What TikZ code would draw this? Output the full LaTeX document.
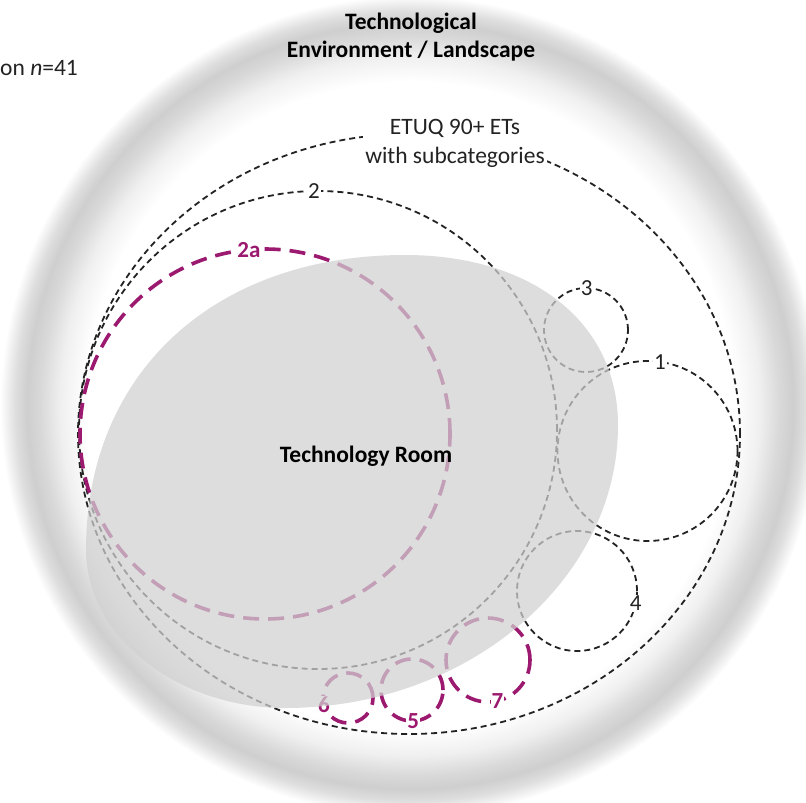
\documentclass[tikz,border=0pt]{standalone}
\usepackage{fontspec}
\setmainfont{Carlito}
\usetikzlibrary{shapes.geometric}
\pgfdeclareradialshading{ringglow}{\pgfpoint{0bp}{0bp}}{color(0bp)=(white); color(19.3bp)=(white); color(20.8bp)=(black!6); color(22.0bp)=(black!15); color(22.8bp)=(black!19); color(23.5bp)=(black!13); color(24.4bp)=(white); color(50bp)=(white)}
\definecolor{mag}{RGB}{155,25,110}
\definecolor{dk}{RGB}{35,35,35}
\begin{document}
\begin{tikzpicture}[x=1pt,y=-1pt,
  bdash/.style={draw=dk, line width=1.8pt, dash pattern=on 6pt off 4pt},
  mdash/.style={draw=mag, line width=3.6pt, dash pattern=on 16pt off 9pt},
  ring/.style={circle, inner sep=0pt, outer sep=0pt},
  lbl/.style={fill=white, inner sep=1pt, text=dk, font=\fontsize{23}{27}\selectfont},
  mlbl/.style={fill=white, inner sep=1pt, text=mag, font=\fontsize{23}{27}\selectfont\bfseries},
  txt/.style={inner sep=0pt, text=black, align=center}]
\useasboundingbox (0,0) rectangle (806,803);
\shade[shading=ringglow] (410,406) circle (420);
% black dashed circles
\node[ellipse, bdash, inner sep=0pt, minimum width=662pt, minimum height=600pt] (etuq) at (409,434) {};
\node[ring, bdash, minimum size=478pt] (c2) at (318,430) {};
\node[ring, bdash, minimum size=84pt] (c3) at (586,330) {};
\node[ring, bdash, minimum size=180pt] (c1) at (647.5,451) {};
\node[ring, bdash, minimum size=120pt] (c4) at (577,591) {};
% magenta circles
\node[ring, mdash, minimum size=370pt] (c2a) at (265,434) {};
\node[ring, mdash, minimum size=84pt] (c7) at (488,660) {};
\node[ring, mdash, minimum size=62pt] (c5) at (412,690) {};
\node[ring, mdash, minimum size=50pt] (c6) at (348,698) {};
% labels
\node[lbl] (l1) at (c1.82) {1};
\node[lbl] (l2) at (c2.91) {2};
\node[lbl] (l3) at (c3.89) {3};
\node[lbl] (l4) at (c4.-12) {4};
\node[mlbl] (l2a) at (c2a.95) {2a};
\node[mlbl] (l5) at (c5.-88) {5};
\node[mlbl] (l6) at (c6.195) {6};
\node[mlbl] (l7) at (c7.-77) {7};
% technology room (semi-transparent grey area)
\coordinate (rT) at (405,255);
\coordinate (rR) at (618,425);
\coordinate (rB) at (285,708);
\coordinate (rL) at (86,550);
\fill[black!18, opacity=0.73]
  (rT) .. controls (533,255) and (618,323) .. (rR)
       .. controls (618,581) and (467,708) .. (rB)
       .. controls (178,708) and (86,637) .. (rL)
       .. controls (86,373) and (214,255) .. (rT) -- cycle;
\node[txt, font=\fontsize{23.5}{27}\selectfont\bfseries] (roomlbl) at (366,456) {Technology Room};
% texts
\node[txt, fill=white, inner sep=2pt, text=dk, font=\fontsize{23.5}{29}\selectfont] (etuqlbl) at (455,143) {ETUQ 90+ ETs\\with subcategories};
\node[txt, font=\fontsize{23.5}{28}\selectfont\bfseries] (title) at (411,37) {Technological\\Environment / Landscape};
\node[txt, anchor=west, text=dk, font=\fontsize{23.5}{27}\selectfont] (nlbl) at (0,68) {on \textit{n}=41};
\end{tikzpicture}
\end{document}
